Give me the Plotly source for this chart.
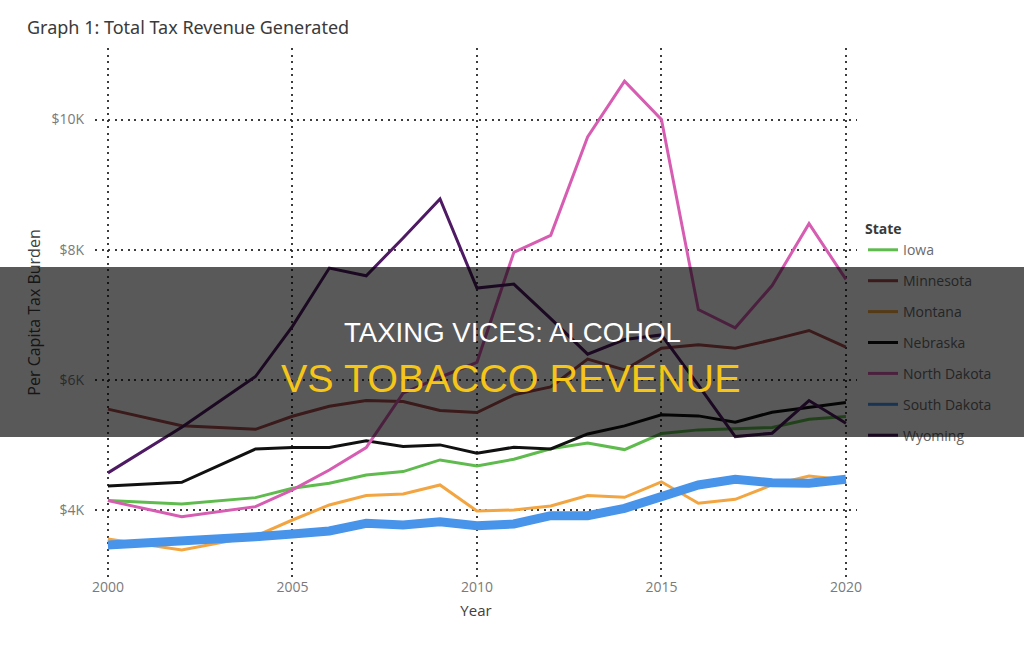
import plotly.graph_objects as go

# ---------------- data ----------------
years = [2000, 2002, 2004, 2005, 2006, 2007, 2008, 2009, 2010, 2011,
         2012, 2013, 2014, 2015, 2016, 2017, 2018, 2019, 2020]

iowa = [4144, 4092, 4190, 4333, 4410, 4538, 4590, 4769, 4677, 4780,
        4940, 5030, 4928, 5175, 5231, 5246, 5267, 5395, 5436]
minnesota = [5550, 5295, 5240, 5440, 5595, 5682, 5667, 5528, 5497, 5769,
             5892, 6318, 6154, 6487, 6538, 6487, 6615, 6759, 6503]
montana = [3554, 3385, 3600, 3846, 4077, 4221, 4246, 4385, 3985, 4000,
           4062, 4221, 4195, 4433, 4103, 4164, 4385, 4523, 4462]
nebraska = [4370, 4426, 4938, 4959, 4959, 5062, 4974, 5000, 4872, 4964,
            4938, 5169, 5292, 5462, 5446, 5349, 5503, 5574, 5651]
north_dakota = [4144, 3897, 4051, 4308, 4615, 4960, 5795, 6040, 6270, 7958,
                8220, 9733, 10590, 10000, 7080, 6800, 7450, 8400, 7545]
south_dakota = [3462, 3513, 3590, 3631, 3677, 3795, 3769, 3820, 3759, 3785,
                3913, 3913, 4026, 4205, 4385, 4472, 4420, 4410, 4472]
wyoming = [4570, 5270, 6051, 6821, 7718, 7600, 8180, 8780, 7410, 7472,
           6940, 6395, 6620, 6690, 5920, 5128, 5180, 5682, 5333]

state_names = ["Iowa", "Minnesota", "Montana", "Nebraska",
               "North Dakota", "South Dakota", "Wyoming"]
state_values = [iowa, minnesota, montana, nebraska,
                north_dakota, south_dakota, wyoming]
state_colors = ["#5fbb4e", "#a64a4a", "#f2a540", "#111111",
                "#d65db1", "#4894ea", "#4e1a63"]

y_tick_vals = [4000, 6000, 8000, 10000]
y_tick_text = ["$4K", "$6K", "$8K", "$10K"]
x_tick_vals = [2000, 2005, 2010, 2015, 2020]
x_tick_text = ["2000", "2005", "2010", "2015", "2020"]

chart_title = "Graph 1: Total Tax Revenue Generated"
banner_line1 = "TAXING VICES: ALCOHOL"
banner_line2 = "VS TOBACCO REVENUE"

# ---------------- layout geometry ----------------
W, H = 1024, 667
ML, MR, MT, MB = 95, 167, 48, 90
PW = W - ML - MR
PH = H - MT - MB


def px_x(x):
    return (x - ML) / PW


def px_y(y):
    return (H - MB - y) / PH


fig = go.Figure()

for name, vals, color in zip(state_names, state_values, state_colors):
    if name == "South Dakota":
        fig.add_trace(go.Scatter(x=years, y=vals, mode="lines", name=name,
                                 legendgroup=name,
                                 line=dict(color=color, width=3)))
        fig.add_trace(go.Scatter(x=years, y=vals, mode="lines", name=name,
                                 legendgroup=name, showlegend=False,
                                 line=dict(color=color, width=9)))
    else:
        fig.add_trace(go.Scatter(x=years, y=vals, mode="lines", name=name,
                                 legendgroup=name,
                                 line=dict(color=color, width=3)))

grid_color = "rgba(40,40,40,0.9)"
tick_font = dict(family="Open Sans, DejaVu Sans, sans-serif", size=14, color="#7a7a7a")

fig.update_layout(
    width=W, height=H,
    margin=dict(l=ML, r=MR, t=MT, b=MB),
    paper_bgcolor="white", plot_bgcolor="white",
    title=dict(text=chart_title, x=27 / W, xanchor="left", xref="container",
               y=1 - 28 / H, yanchor="middle", yref="container",
               font=dict(family="Noto Sans, Open Sans, sans-serif", size=18, color="#3a3a3a")),
    xaxis=dict(range=[1999.65, 2020.3], tickvals=x_tick_vals, ticktext=x_tick_text,
               showgrid=True, gridcolor=grid_color, gridwidth=1.5, griddash="2px,4.5px",
               zeroline=False, showline=False, ticks="", tickfont=tick_font,
               title=dict(text="Year", standoff=10,
                          font=dict(family="Open Sans, sans-serif", size=15, color="#404040"))),
    yaxis=dict(range=[2970, 11100], tickvals=y_tick_vals, ticktext=y_tick_text,
               showgrid=True, gridcolor=grid_color, gridwidth=1.5, griddash="2px,4.5px",
               zeroline=False, showline=False, ticks="", tickfont=tick_font,
               ticklabelstandoff=10,
               title=dict(text="Per Capita Tax Burden", standoff=6,
                          font=dict(family="Open Sans, sans-serif", size=16, color="#404040"))),
    legend=dict(x=px_x(863), xanchor="left", y=px_y(216), yanchor="top",
                title=dict(text="<b>State</b>",
                           font=dict(family="Open Sans, sans-serif", size=14, color="#3a3a3a")),
                font=dict(family="Open Sans, sans-serif", size=14, color="#6a6a6a"),
                tracegroupgap=9.7, bgcolor="rgba(0,0,0,0)"),
    showlegend=True,
)

# dark banner across the picture
fig.add_annotation(xref="paper", yref="paper", x=px_x(512), y=px_y(352),
                   xanchor="center", yanchor="middle", text=" ", showarrow=False,
                   width=W, height=170, bgcolor="rgba(0,0,0,0.65)",
                   borderpad=0, borderwidth=0)
fig.add_annotation(xref="paper", yref="paper", x=px_x(512), y=px_y(332),
                   xanchor="center", yanchor="middle", text=banner_line1, showarrow=False,
                   font=dict(family="Liberation Sans, Arial, sans-serif", size=27.6, color="white"))
fig.add_annotation(xref="paper", yref="paper", x=px_x(511), y=px_y(378),
                   xanchor="center", yanchor="middle", text=banner_line2, showarrow=False,
                   font=dict(family="Liberation Sans, Arial, sans-serif", size=39.5, color="#f5c518"))

fig.write_html("out.html")
